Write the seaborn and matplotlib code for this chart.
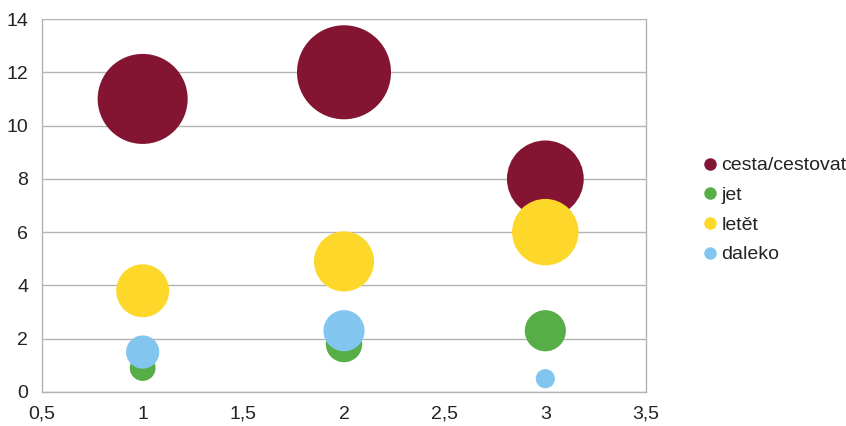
import matplotlib
matplotlib.use("Agg")
import matplotlib.pyplot as plt
from matplotlib.lines import Line2D
import seaborn as sns
import pandas as pd

# Series data: x positions, y values (bubble size equals the value)
x_positions = [1, 2, 3]
series_names = ["cesta/cestovat", "jet", "letět", "daleko"]
cesta_values = [11, 12, 8]
jet_values = [0.9, 1.8, 2.3]
letet_values = [3.8, 4.9, 6]
daleko_values = [1.5, 2.3, 0.5]
series_colors = ["#831533", "#57ae46", "#fdd82a", "#82c6f0"]

x_ticks = [0.5, 1, 1.5, 2, 2.5, 3, 3.5]
x_tick_labels = ["0,5", "1", "1,5", "2", "2,5", "3", "3,5"]
y_ticks = [0, 2, 4, 6, 8, 10, 12, 14]

rows = []
for name, vals in zip(series_names, [cesta_values, jet_values, letet_values, daleko_values]):
    for x, v in zip(x_positions, vals):
        rows.append({"x": x, "value": v, "series": name})
df = pd.DataFrame(rows)

sns.set_theme(style="white")
plt.rcParams["font.family"] = ["Liberation Sans", "DejaVu Sans"]

fig = plt.figure(figsize=(8.46, 4.26), dpi=100)
ax = fig.add_axes([42 / 846, 1 - 392 / 426, (646 - 42) / 846, (392 - 19) / 426])

palette = dict(zip(series_names, series_colors))
sns.scatterplot(
    data=df, x="x", y="value", hue="series", size="value",
    palette=palette, sizes=(0, 4583), size_norm=(0, 12),
    linewidth=0, alpha=1, legend=False, ax=ax, zorder=3,
)

grid_color = "#b3b3b3"
ax.set_xlim(0.5, 3.5)
ax.set_ylim(0, 14)
ax.set_xticks(x_ticks)
ax.set_xticklabels(x_tick_labels)
ax.set_yticks(y_ticks)
ax.set_xlabel("")
ax.set_ylabel("")
ax.yaxis.grid(True, color=grid_color, linewidth=1.0)
ax.xaxis.grid(False)
ax.set_axisbelow(True)
for side in ["left", "right", "bottom"]:
    ax.spines[side].set_visible(True)
    ax.spines[side].set_color(grid_color)
    ax.spines[side].set_linewidth(1.0)
ax.spines["top"].set_visible(False)
ax.tick_params(axis="both", direction="out", length=5, width=1.0, color=grid_color,
               labelsize=14, labelcolor="#222222")
ax.tick_params(axis="x", pad=5)
ax.tick_params(axis="y", pad=5)

handles = [Line2D([0], [0], marker="o", linestyle="", markersize=9,
                  markerfacecolor=c, markeredgewidth=0) for c in series_colors]
fig.legend(handles, series_names, loc="center left", bbox_to_anchor=(700 / 846, 1 - 210 / 426),
           frameon=False, fontsize=14, handletextpad=0.1, handlelength=1.0,
           labelspacing=0.62, borderpad=0, borderaxespad=0, labelcolor="#222222")

fig.savefig("out.png", dpi=100)
